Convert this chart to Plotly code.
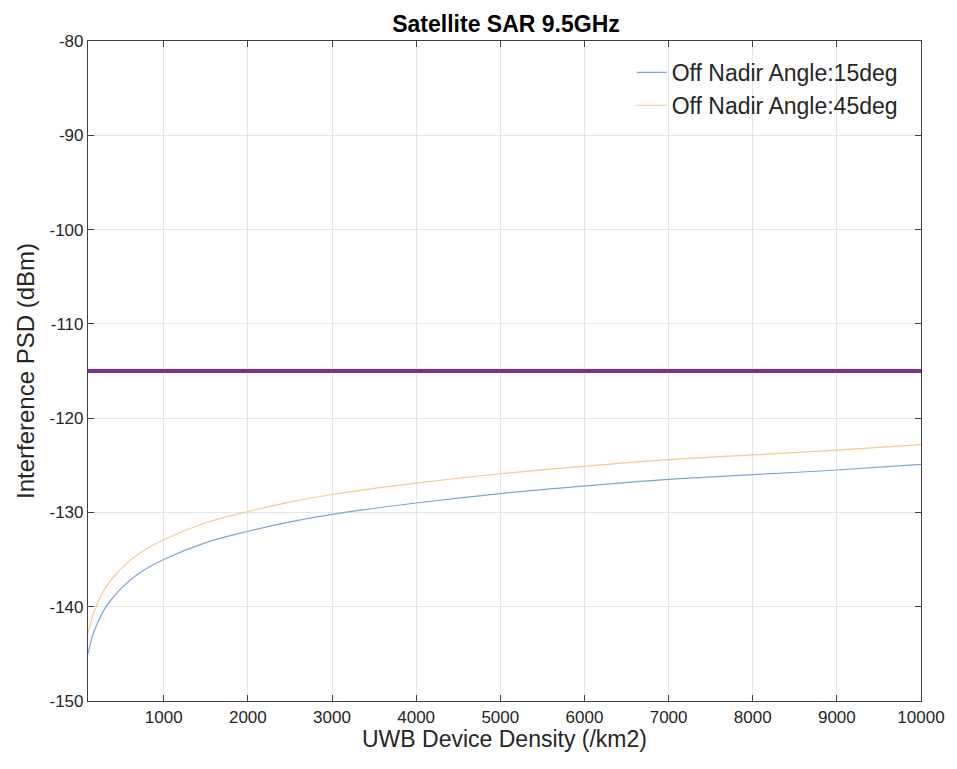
import plotly.graph_objects as go

# UWB device density (/km2)
density = [100, 150, 200, 300, 400, 500, 700, 1000, 1500, 2000, 2500, 3000,
           4000, 5000, 6000, 7000, 8000, 9000, 10000]

# interference PSD (dBm)
psd_15deg = [-145.0, -143.2, -142.0, -140.2, -139.0, -138.0, -136.5, -135.0,
             -133.2, -132.0, -131.0, -130.2, -129.0, -128.0, -127.2, -126.5,
             -126.0, -125.5, -124.9]
psd_45deg = [-142.8, -141.1, -139.9, -138.1, -136.9, -135.9, -134.4, -132.9,
             -131.1, -129.9, -128.9, -128.1, -126.9, -125.9, -125.1, -124.4,
             -123.9, -123.4, -122.8]

# protection threshold (dBm)
threshold = -115
x_range = [100, 10000]

x_ticks = [1000, 2000, 3000, 4000, 5000, 6000, 7000, 8000, 9000, 10000]
x_labels = ["1000", "2000", "3000", "4000", "5000", "6000", "7000", "8000", "9000", "10000"]
y_ticks = [-150, -140, -130, -120, -110, -100, -90, -80]
y_labels = ["-150", "-140", "-130", "-120", "-110", "-100", "-90", "-80"]

FONT = "Liberation Sans, Arial, sans-serif"

fig = go.Figure()

fig.add_trace(go.Scatter(
    x=density, y=psd_15deg,
    name="Off Nadir Angle:15deg",
    mode="lines",
    line=dict(color="#7fa5d6", width=1.2, shape="spline"),
))

fig.add_trace(go.Scatter(
    x=density, y=psd_45deg,
    name="Off Nadir Angle:45deg",
    mode="lines",
    line=dict(color="#f0cb92", width=1.2, shape="spline"),
))

# threshold line
fig.add_trace(go.Scatter(
    x=x_range, y=[threshold, threshold],
    mode="lines",
    line=dict(color="#7e2f8e", width=4),
    showlegend=False,
))

# page body has an 8px margin, so the figure is shrunk to fit the window
fig.update_layout(
    width=949,
    height=761,
    margin=dict(l=80, r=33, t=33, b=68),
    paper_bgcolor="white",
    plot_bgcolor="white",
    font=dict(family=FONT, size=17, color="#262626"),
    title=dict(
        text="<b>Satellite SAR 9.5GHz</b>",
        x=(0.5 * (80 + 916)) / 949, xanchor="center",
        y=0.99, yanchor="top",
        font=dict(family=FONT, size=23, color="#000000"),
    ),
    legend=dict(
        x=0.978, xanchor="right",
        y=0.985, yanchor="top",
        bgcolor="rgba(255,255,255,0)",
        borderwidth=0,
        font=dict(family=FONT, size=23, color="#262626"),
        tracegroupgap=0,
        itemwidth=30,
    ),
    showlegend=True,
)

fig.update_xaxes(
    range=x_range,
    tickvals=x_ticks, ticktext=x_labels,
    title=dict(text="UWB Device Density (/km2)", font=dict(size=23, color="#262626"), standoff=4),
    showgrid=True, gridcolor="#e6e6e6", gridwidth=1,
    showline=True, linecolor="#404040", linewidth=1.2, mirror="ticks",
    ticks="inside", ticklen=6, tickcolor="#404040",
    zeroline=False,
)

fig.update_yaxes(
    range=[-150, -80],
    tickvals=y_ticks, ticktext=y_labels,
    title=dict(text="Interference PSD (dBm)", font=dict(size=24, color="#262626"), standoff=8),
    showgrid=True, gridcolor="#e6e6e6", gridwidth=1,
    showline=True, linecolor="#404040", linewidth=1.2, mirror="ticks",
    ticks="inside", ticklen=6, tickcolor="#404040",
    zeroline=False,
)

fig.write_html("out.html")
